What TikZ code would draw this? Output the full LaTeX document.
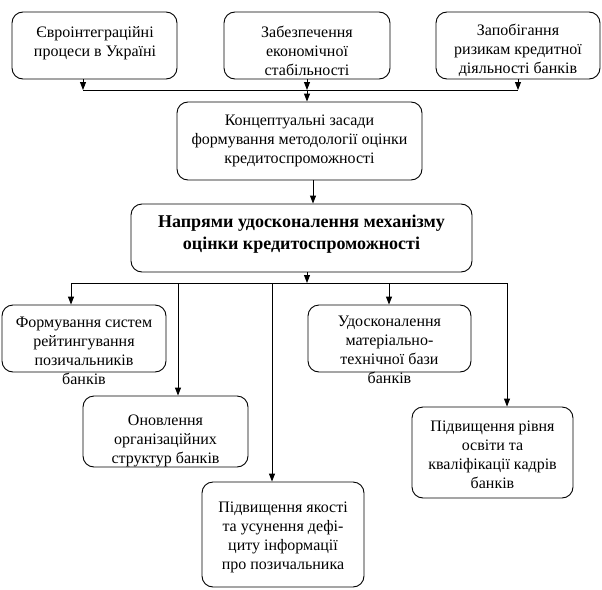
\documentclass[tikz,border=0pt]{standalone}
\usepackage{fontspec}
\setmainfont{Liberation Serif}
\usetikzlibrary{arrows.meta}
\begin{document}
\begin{tikzpicture}[x=1pt,y=-1pt,
  box/.style={draw, line width=0.9pt, rounded corners=11pt, inner sep=0pt, align=center,
    font=\fontsize{16}{19}\selectfont},
  txt/.style={align=center, inner sep=0pt, font=\fontsize{16}{19}\selectfont},
  arr/.style={line width=0.9pt, -{Triangle[length=8pt,width=6pt]}},
  ln/.style={line width=0.9pt}]
\useasboundingbox (0,0) rectangle (602,589);
\fill[white] (0,0) rectangle (602,589);

% top row
\node[box, minimum width=165pt, minimum height=67pt] (b1) at (94.5,45.5) {};
\node[box, minimum width=166pt, minimum height=67pt] (b2) at (307,45.5) {};
\node[box, minimum width=164pt, minimum height=67pt] (b3) at (518,45.5) {};
\node[txt] (b1t) at (95,43) {Євроінтеграційні\\процеси в Україні};
\node[txt] (b2t) at (307,50.5) {Забезпечення\\економічної\\стабільності};
\node[txt] (b3t) at (518,50.5) {Запобігання\\ризикам кредитної\\діяльності банків};

\node[box, minimum width=245pt, minimum height=78pt] (c) at (299.5,141) {Концептуальні засади\\формування методології оцінки\\кредитоспроможності};

\node[box, minimum width=341pt, minimum height=68pt] (n) at (301.5,238) {};
\node[txt, font=\fontsize{18}{22}\selectfont\bfseries] (nt) at (301.5,234) {Напрями удосконалення механізму\\оцінки кредитоспроможності};

% lower boxes (frames)
\node[box, minimum width=164pt, minimum height=67pt] (f1) at (84,338.5) {};
\node[box, minimum width=165pt, minimum height=71pt] (f2) at (165.5,431.5) {};
\node[box, minimum width=162pt, minimum height=105pt] (f3) at (283,534.5) {};
\node[box, minimum width=163pt, minimum height=67pt] (f4) at (389.5,338.5) {};
\node[box, minimum width=161pt, minimum height=91pt] (f5) at (492.5,452.5) {};

% texts of lower boxes
\node[txt] (f1t) at (84,351) {Формування систем\\рейтингування\\позичальників\\банків};
\node[txt] (f2t) at (165.5,441) {Оновлення\\організаційних\\структур банків};
\node[txt] (f3t) at (283,537) {Підвищення якості\\та усунення дефі-\\циту інформації\\про позичальника};
\node[txt] (f4t) at (389.5,350) {Удосконалення\\матеріально-\\технічної бази\\банків};
\node[txt] (f5t) at (492.5,455) {Підвищення рівня\\освіти та\\кваліфікації кадрів\\банків};

% junction coordinates
\coordinate (t1) at (83,90);
\coordinate (t2) at (307,90);
\coordinate (t3) at (518,90);
\coordinate (a1) at (313,0);
\coordinate (jb) at (307,283);
\coordinate (l1) at (71,283);
\coordinate (l2) at (178,283);
\coordinate (l3) at (272,283);
\coordinate (l4) at (389,283);
\coordinate (l5) at (507,283);

% connectors
\draw[arr] (b1.south -| t1) -- (t1);
\draw[arr] (b2.south -| t2) -- (t2);
\draw[arr] (b3.south -| t3) -- (t3);
\draw[ln] (t1) -- (t3);
\draw[arr] (t2) -- (c.north -| t2);
\draw[arr] (c.south -| a1) -- (n.north -| a1);
\draw[arr] (n.south -| jb) -- (jb);
\draw[ln] (l1) -- (l5);
\draw[arr] (l1) -- (f1.north -| l1);
\draw[arr] (l2) -- (f2.north -| l2);
\draw[arr] (l3) -- (f3.north -| l3);
\draw[arr] (l4) -- (f4.north -| l4);
\draw[arr] (l5) -- (f5.north -| l5);
\end{tikzpicture}
\end{document}
